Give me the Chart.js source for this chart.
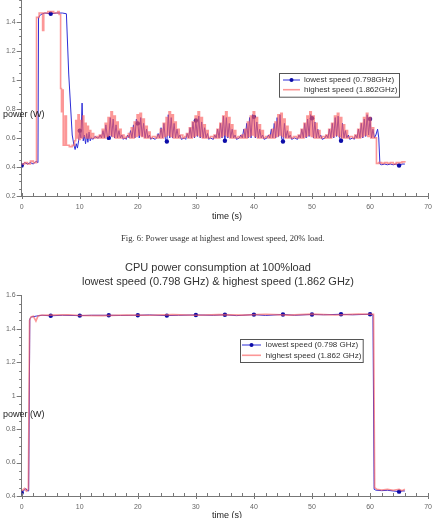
<!DOCTYPE html>
<html>
<head>
<meta charset="utf-8">
<script src="https://cdn.jsdelivr.net/npm/chart.js@4.4.1/dist/chart.umd.min.js"></script>
<style>
  body { margin: 0; background: #fff; width: 439px; height: 518px; overflow: hidden; position: relative; }
  canvas { position: absolute; left: 0; }
  .lbl { position: absolute; font: 9px "Liberation Sans", Arial, sans-serif; color: #222; white-space: nowrap; line-height: 10px; }
  .cap { position: absolute; font: 8.6px "Liberation Serif", "Times New Roman", serif; color: #333; white-space: nowrap; line-height: 10px; }
  .ttl { position: absolute; left: 0; width: 436px; text-align: center; font: 11px "Liberation Sans", Arial, sans-serif; color: #333; line-height: 13.7px; }
</style>
</head>
<body>
<canvas id="top" width="439" height="240" style="top:-20px"></canvas>
<canvas id="bottom" width="439" height="233" style="top:285px"></canvas>

<div class="lbl" style="left:3px; top:109px">power (W)</div>
<div class="lbl" style="left:212px; top:211px">time (s)</div>
<div class="cap" style="left:121px; top:233px">Fig. 6: Power usage at highest and lowest speed, 20% load.</div>
<div class="ttl" style="top:261px">CPU power consumption at 100%load<br>lowest speed (0.798 GHz) &amp; highest speed (1.862 GHz)</div>
<div class="lbl" style="left:3px; top:409px">power (W)</div>
<div class="lbl" style="left:212px; top:510px">time (s)</div>

<script>
// ---- 20% load (top plot) ----
const load20LowTime = [
  0, 0.5, 1, 1.5, 2, 2.5, 2.8, 2.9, 3.3, 4, 5, 6, 7, 7.7, 8.1, 8.7,
  9, 9.2, 9.4, 9.6, 9.8, 10, 10.2, 10.4, 10.6, 10.8, 11, 11.2, 11.4, 11.6, 11.8, 12, 12.3, 12.6, 13,
  13.25, 13.5, 13.75, 14, 14.25, 14.5, 14.75, 15, 15.25, 15.5, 15.75, 16, 16.25, 16.5, 16.75, 17, 17.25, 17.5, 17.75, 18,
  18.25, 18.5, 18.75, 19, 19.25, 19.5, 19.75, 20, 20.25, 20.5, 20.75, 21, 21.25, 21.5, 21.75, 22, 22.25, 22.5, 23, 23.25,
  23.5, 23.75, 24, 24.25, 24.5, 24.75, 25, 25.25, 25.5, 25.75, 26, 26.25, 26.5, 26.75, 27, 27.25, 27.5, 28, 28.25,
  28.5, 28.75, 29, 29.25, 29.5, 29.75, 30, 30.25, 30.5, 30.75, 31, 31.25, 31.5, 31.75, 32, 32.25, 32.5, 33,
  33.25, 33.5, 33.75, 34, 34.25, 34.5, 34.75, 35, 35.25, 35.5, 35.75, 36, 36.25, 36.5, 36.75, 37, 37.5,
  37.75, 38, 38.25, 38.5, 38.75, 39, 39.25, 39.5, 39.75, 40, 40.25, 40.5, 40.75, 41, 41.25, 41.5, 41.75, 42.25,
  42.5, 42.75, 43, 43.25, 43.5, 43.75, 44, 44.25, 44.5, 44.75, 45, 45.25, 45.5, 45.75, 46, 46.25, 46.5, 47, 47.5,
  47.75, 48, 48.25, 48.5, 48.75, 49, 49.25, 49.5, 49.75, 50, 50.25, 50.5, 50.75, 51, 51.25, 51.5, 51.75, 52.25,
  52.5, 52.75, 53, 53.25, 53.5, 53.75, 54, 54.25, 54.5, 54.75, 55, 55.25, 55.5, 55.75, 56, 56.25, 56.5, 57, 57.25,
  57.5, 57.75, 58, 58.25, 58.5, 58.75, 59, 59.25, 59.5, 59.75, 60, 60.25, 60.5, 60.75, 61, 61.3, 61.5, 61.7,
  62, 62.5, 63, 63.5, 64, 64.5, 65, 65.5, 66
];
const load20LowPower = [
  0.41, 0.43, 0.42, 0.43, 0.42, 0.44, 0.43, 1.43, 1.45, 1.46, 1.455, 1.46, 1.46, 1.455, 1.04, 0.62,
  0.55, 0.52, 0.56, 0.53, 0.58, 0.65, 0.6, 0.84, 0.58, 0.62, 0.56, 0.63, 0.57, 0.64, 0.58, 0.6, 0.59, 0.61, 0.6,
  0.6, 0.62, 0.6, 0.65, 0.6, 0.69, 0.61, 0.6, 0.74, 0.61, 0.73, 0.6, 0.69, 0.6, 0.65, 0.6, 0.62, 0.59, 0.6, 0.59,
  0.62, 0.6, 0.65, 0.6, 0.69, 0.6, 0.73, 0.7, 0.6, 0.74, 0.61, 0.7, 0.6, 0.66, 0.6, 0.62, 0.59, 0.6, 0.59, 0.6,
  0.63, 0.6, 0.67, 0.6, 0.7, 0.59, 0.575, 0.76, 0.6, 0.74, 0.6, 0.7, 0.6, 0.66, 0.6, 0.62, 0.59, 0.6, 0.59,
  0.63, 0.6, 0.67, 0.6, 0.71, 0.6, 0.72, 0.61, 0.75, 0.6, 0.71, 0.6, 0.67, 0.6, 0.63, 0.59, 0.6, 0.59,
  0.62, 0.6, 0.66, 0.6, 0.7, 0.6, 0.75, 0.58, 0.74, 0.6, 0.7, 0.6, 0.66, 0.6, 0.62, 0.59, 0.6,
  0.62, 0.6, 0.66, 0.6, 0.7, 0.6, 0.74, 0.6, 0.76, 0.745, 0.6, 0.71, 0.6, 0.66, 0.6, 0.62, 0.59, 0.6,
  0.62, 0.6, 0.66, 0.6, 0.7, 0.6, 0.74, 0.61, 0.76, 0.6, 0.575, 0.7, 0.6, 0.65, 0.6, 0.62, 0.59, 0.6, 0.59,
  0.62, 0.6, 0.66, 0.6, 0.7, 0.6, 0.73, 0.61, 0.76, 0.735, 0.6, 0.71, 0.6, 0.66, 0.6, 0.62, 0.59, 0.6,
  0.62, 0.6, 0.66, 0.6, 0.7, 0.6, 0.74, 0.61, 0.75, 0.6, 0.58, 0.7, 0.6, 0.65, 0.6, 0.62, 0.59, 0.6, 0.59,
  0.62, 0.6, 0.66, 0.6, 0.7, 0.6, 0.73, 0.61, 0.76, 0.62, 0.73, 0.6, 0.66, 0.6, 0.62, 0.66, 0.6, 0.42,
  0.415, 0.42, 0.415, 0.42, 0.415, 0.42, 0.41, 0.42, 0.42
];
const load20HighTime = [
  0, 0.5, 1, 1.5, 2, 2.55, 3, 3.6, 3.8, 4.5, 5.5, 6.2, 6.45, 6.7, 6.85, 7, 7.15, 7.45, 7.7, 8.2, 8.7, 9.1,
  9.3, 9.5, 9.7, 9.9, 10.1, 10.3, 10.5, 10.7, 10.9, 11.1, 11.3, 11.5, 11.7, 11.9, 12.1, 12.4, 12.8, 13.1,
  13.375, 13.625, 13.875, 14.125, 14.375, 14.625, 14.875, 15.125, 15.375, 15.625, 15.875, 16.125, 16.375, 16.625, 16.875, 17.125, 17.375, 17.625, 18,
  18.375, 18.625, 18.875, 19.125, 19.375, 19.625, 19.875, 20.125, 20.375, 20.625, 20.875, 21.125, 21.375, 21.625, 21.875, 22.125, 22.5, 23,
  23.375, 23.625, 23.875, 24.125, 24.375, 24.625, 24.875, 25.125, 25.375, 25.625, 25.875, 26.125, 26.375, 26.625, 26.875, 27.125, 27.375, 27.75, 28.1,
  28.375, 28.625, 28.875, 29.125, 29.375, 29.625, 29.875, 30.125, 30.375, 30.625, 30.875, 31.125, 31.375, 31.625, 31.875, 32.125, 32.5, 33,
  33.125, 33.375, 33.625, 33.875, 34.125, 34.375, 34.625, 34.875, 35.125, 35.375, 35.625, 35.875, 36.125, 36.375, 36.625, 36.875, 37.25, 37.6,
  37.875, 38.125, 38.375, 38.625, 38.875, 39.125, 39.375, 39.625, 39.875, 40.125, 40.375, 40.625, 40.875, 41.125, 41.375, 41.625, 42, 42.4,
  42.625, 42.875, 43.125, 43.375, 43.625, 43.875, 44.125, 44.375, 44.625, 44.875, 45.125, 45.375, 45.625, 45.875, 46.125, 46.375, 46.8, 47.3,
  47.625, 47.875, 48.125, 48.375, 48.625, 48.875, 49.125, 49.375, 49.625, 49.875, 50.125, 50.375, 50.625, 50.875, 51.125, 51.375, 51.75, 52.2,
  52.375, 52.625, 52.875, 53.125, 53.375, 53.625, 53.875, 54.125, 54.375, 54.625, 54.875, 55.125, 55.375, 55.625, 55.875, 56.125, 56.5, 57,
  57.375, 57.625, 57.875, 58.125, 58.375, 58.625, 58.875, 59.125, 59.375, 59.625, 59.875, 60.125, 60.375, 60.625, 61.1,
  61.5, 62, 62.5, 63, 63.5, 64, 64.5, 65, 65.5, 66
];
const load20HighPower = [
  0.42, 0.43, 0.42, 0.44, 0.43, 1.43, 1.46, 1.34, 1.46, 1.47, 1.46, 1.47, 1.45, 0.94, 0.78, 0.93, 0.55, 0.75, 0.55, 0.54, 0.55, 0.58,
  0.72, 0.6, 0.76, 0.59, 0.72, 0.6, 0.75, 0.61, 0.7, 0.6, 0.68, 0.6, 0.65, 0.6, 0.63, 0.6, 0.61, 0.6,
  0.62, 0.6, 0.66, 0.6, 0.7, 0.61, 0.74, 0.62, 0.78, 0.61, 0.75, 0.6, 0.71, 0.6, 0.66, 0.6, 0.62, 0.6, 0.61,
  0.63, 0.6, 0.67, 0.6, 0.71, 0.61, 0.76, 0.62, 0.77, 0.61, 0.73, 0.6, 0.68, 0.6, 0.64, 0.6, 0.61, 0.6,
  0.62, 0.6, 0.66, 0.6, 0.7, 0.61, 0.74, 0.62, 0.78, 0.61, 0.76, 0.6, 0.71, 0.6, 0.66, 0.6, 0.62, 0.6, 0.61,
  0.63, 0.6, 0.67, 0.6, 0.71, 0.61, 0.75, 0.62, 0.78, 0.61, 0.74, 0.6, 0.69, 0.6, 0.65, 0.6, 0.61, 0.6,
  0.62, 0.6, 0.66, 0.6, 0.7, 0.61, 0.75, 0.62, 0.78, 0.61, 0.74, 0.6, 0.69, 0.6, 0.65, 0.6, 0.61, 0.6,
  0.62, 0.6, 0.66, 0.6, 0.71, 0.61, 0.75, 0.62, 0.78, 0.61, 0.74, 0.6, 0.69, 0.6, 0.65, 0.6, 0.61, 0.6,
  0.62, 0.6, 0.66, 0.6, 0.71, 0.61, 0.76, 0.62, 0.77, 0.61, 0.73, 0.6, 0.68, 0.6, 0.64, 0.6, 0.61, 0.6,
  0.62, 0.6, 0.66, 0.6, 0.7, 0.61, 0.75, 0.62, 0.78, 0.61, 0.75, 0.6, 0.7, 0.6, 0.65, 0.6, 0.61, 0.6,
  0.62, 0.6, 0.66, 0.6, 0.7, 0.61, 0.75, 0.62, 0.77, 0.61, 0.74, 0.6, 0.69, 0.6, 0.65, 0.6, 0.61, 0.6,
  0.62, 0.6, 0.66, 0.6, 0.7, 0.61, 0.74, 0.62, 0.77, 0.61, 0.74, 0.6, 0.67, 0.6, 0.425,
  0.43, 0.425, 0.43, 0.425, 0.43, 0.42, 0.43, 0.43, 0.435, 0.43
];

// ---- 100% load (bottom plot) ----
const load100LowTime = [
  0, 0.3, 0.7, 1.0, 1.2, 1.4, 1.7, 2.5, 3.5, 5, 7, 10, 12, 15, 17, 20, 22, 25, 27, 30,
  33, 35, 37, 40, 42, 45, 47, 50, 52, 55, 57, 60, 60.5, 60.7, 61, 62, 63, 64, 65, 65.5, 66
];
const load100LowPower = [
  0.42, 0.43, 0.445, 0.43, 0.43, 1.46, 1.47, 1.475, 1.48, 1.477, 1.48, 1.478, 1.48, 1.48, 1.479, 1.48, 1.482, 1.478, 1.48, 1.482,
  1.48, 1.483, 1.478, 1.484, 1.479, 1.485, 1.48, 1.485, 1.483, 1.486, 1.483, 1.486, 1.484, 0.44, 0.435, 0.432, 0.434, 0.43, 0.426, 0.43, 0.43
];
const load100HighTime = [
  0, 0.5, 0.8, 1.15, 1.35, 1.6, 2.0, 2.45, 2.8, 3.2, 5, 8, 10, 14, 18, 22, 26, 30, 34, 38,
  42, 46, 50, 54, 58, 60.6, 60.8, 61.2, 62, 63, 64, 65, 65.5, 66
];
const load100HighPower = [
  0.43, 0.445, 0.43, 0.44, 1.45, 1.47, 1.475, 1.445, 1.475, 1.48, 1.481, 1.483, 1.479, 1.478, 1.482, 1.48, 1.484, 1.48, 1.484, 1.481,
  1.486, 1.481, 1.487, 1.482, 1.487, 1.486, 0.45, 0.44, 0.436, 0.44, 0.434, 0.44, 0.432, 0.44
];

const xTickStep = 2;      // minor ticks every 2 s, labels every 10 s
const yTickStep = 0.05;   // minor ticks every 0.05 W, labels every 0.2 W

const pairs = (xs, ys) => xs.map((x, i) => ({ x: x, y: ys[i] }));

const isMultiple = (v, m) => Math.abs(v / m - Math.round(v / m)) < 1e-6;

// small tick marks on both axes, major ones a bit longer
const axisTicks = {
  id: 'axisTicks',
  afterDraw(chart) {
    const { ctx, chartArea: a } = chart;
    const xs = chart.scales.x, ys = chart.scales.y;
    ctx.save();
    ctx.strokeStyle = '#777';
    ctx.lineWidth = 1;
    ctx.beginPath();
    xs.ticks.forEach(t => {
      const px = Math.round(xs.getPixelForValue(t.value)) + 0.5;
      ctx.moveTo(px, a.bottom - 3);
      ctx.lineTo(px, a.bottom + (isMultiple(t.value, 10) ? 3 : 0));
    });
    ys.ticks.forEach(t => {
      const py = Math.round(ys.getPixelForValue(t.value)) + 0.5;
      ctx.moveTo(a.left - (isMultiple(t.value, 0.2) ? 5 : 2.5), py);
      ctx.lineTo(a.left, py);
    });
    ctx.stroke();
    ctx.restore();
  }
};

// boxed legend inside the plot
const boxLegend = {
  id: 'boxLegend',
  afterDraw(chart, args, o) {
    const ctx = chart.ctx;
    ctx.save();
    ctx.fillStyle = '#fff';
    ctx.fillRect(o.x, o.y, o.w, o.h);
    ctx.strokeStyle = '#555';
    ctx.lineWidth = 1;
    ctx.strokeRect(Math.round(o.x) + 0.5, Math.round(o.y) + 0.5, o.w, o.h);
    ctx.font = '8px "Liberation Sans", Arial, sans-serif';
    ctx.textBaseline = 'middle';
    chart.data.datasets.forEach((ds, i) => {
      const y = o.rows[i];
      ctx.strokeStyle = ds.borderColor;
      ctx.lineWidth = ds.borderWidth;
      ctx.beginPath();
      ctx.moveTo(o.lineX0, y);
      ctx.lineTo(o.lineX1, y);
      ctx.stroke();
      if (ds.markerEvery) {
        ctx.fillStyle = ds.pointBackgroundColor;
        ctx.beginPath();
        ctx.arc((o.lineX0 + o.lineX1) / 2, y, 2, 0, Math.PI * 2);
        ctx.fill();
      }
      ctx.fillStyle = '#333';
      ctx.fillText(ds.label, o.textX, y);
    });
    ctx.restore();
  }
};

function makeChart(id, lowLabel, lowData, highLabel, highData, highStepped, layoutTop, xHeight, legend) {
  const tickFont = { family: '"Liberation Sans", Arial, sans-serif', size: 7 };
  return new Chart(document.getElementById(id), {
    type: 'line',
    data: {
      datasets: [
        {
          label: lowLabel,
          data: lowData,
          borderColor: 'rgb(45,45,215)',
          borderWidth: 1,
          pointBackgroundColor: '#0c0ca8',
          pointBorderWidth: 0,
          markerEvery: 5,
          pointRadius: ctx => (ctx.raw && isMultiple(ctx.raw.x, 5)) ? 2.2 : 0,
          tension: 0,
          order: 1
        },
        {
          label: highLabel,
          data: highData,
          borderColor: 'rgba(250,95,95,0.65)',
          borderWidth: 1.6,
          pointRadius: 0,
          stepped: highStepped,
          tension: 0,
          order: 0
        }
      ]
    },
    options: {
      responsive: false,
      animation: false,
      devicePixelRatio: 1,
      layout: { padding: { top: layoutTop, right: 8, left: 0, bottom: 0 } },
      plugins: {
        legend: { display: false },
        tooltip: { enabled: false },
        boxLegend: legend
      },
      scales: {
        x: {
          type: 'linear',
          min: 0,
          max: 70,
          grid: { display: false, drawTicks: false },
          border: { display: true, color: '#777', width: 1 },
          ticks: {
            stepSize: xTickStep,
            autoSkip: false,
            maxRotation: 0,
            padding: 7,
            color: '#666',
            font: tickFont,
            callback: v => isMultiple(v, 10) ? String(v) : ''
          },
          afterFit: s => { s.height = xHeight; }
        },
        y: {
          type: 'linear',
          min: legend.yMin,
          max: 1.6,
          grid: { display: false, drawTicks: false },
          border: { display: true, color: '#777', width: 1 },
          ticks: {
            stepSize: yTickStep,
            autoSkip: false,
            padding: 6,
            color: '#666',
            font: tickFont,
            callback: v => {
              const r = Math.round(v * 100) / 100;
              return isMultiple(r, 0.2) ? String(r) : '';
            }
          },
          afterFit: s => { s.width = 21.7; }
        }
      }
    },
    plugins: [axisTicks, boxLegend]
  });
}

makeChart('top',
  'lowest speed (0.798GHz)', pairs(load20LowTime, load20LowPower),
  'highest speed (1.862GHz)', pairs(load20HighTime, load20HighPower), true,
  12.7, 24,
  { yMin: 0.2, x: 278.7, y: 93, w: 120, h: 23.7, lineX0: 283, lineX1: 300, textX: 304, rows: [100, 109.7] });

makeChart('bottom',
  'lowest speed (0.798 GHz)', pairs(load100LowTime, load100LowPower),
  'highest speed (1.862 GHz)', pairs(load100HighTime, load100HighPower), false,
  8.3, 22,
  { yMin: 0.4, x: 240, y: 54, w: 122.7, h: 23, lineX0: 242, lineX1: 261, textX: 265.7, rows: [60, 70.3] });
</script>
</body>
</html>
